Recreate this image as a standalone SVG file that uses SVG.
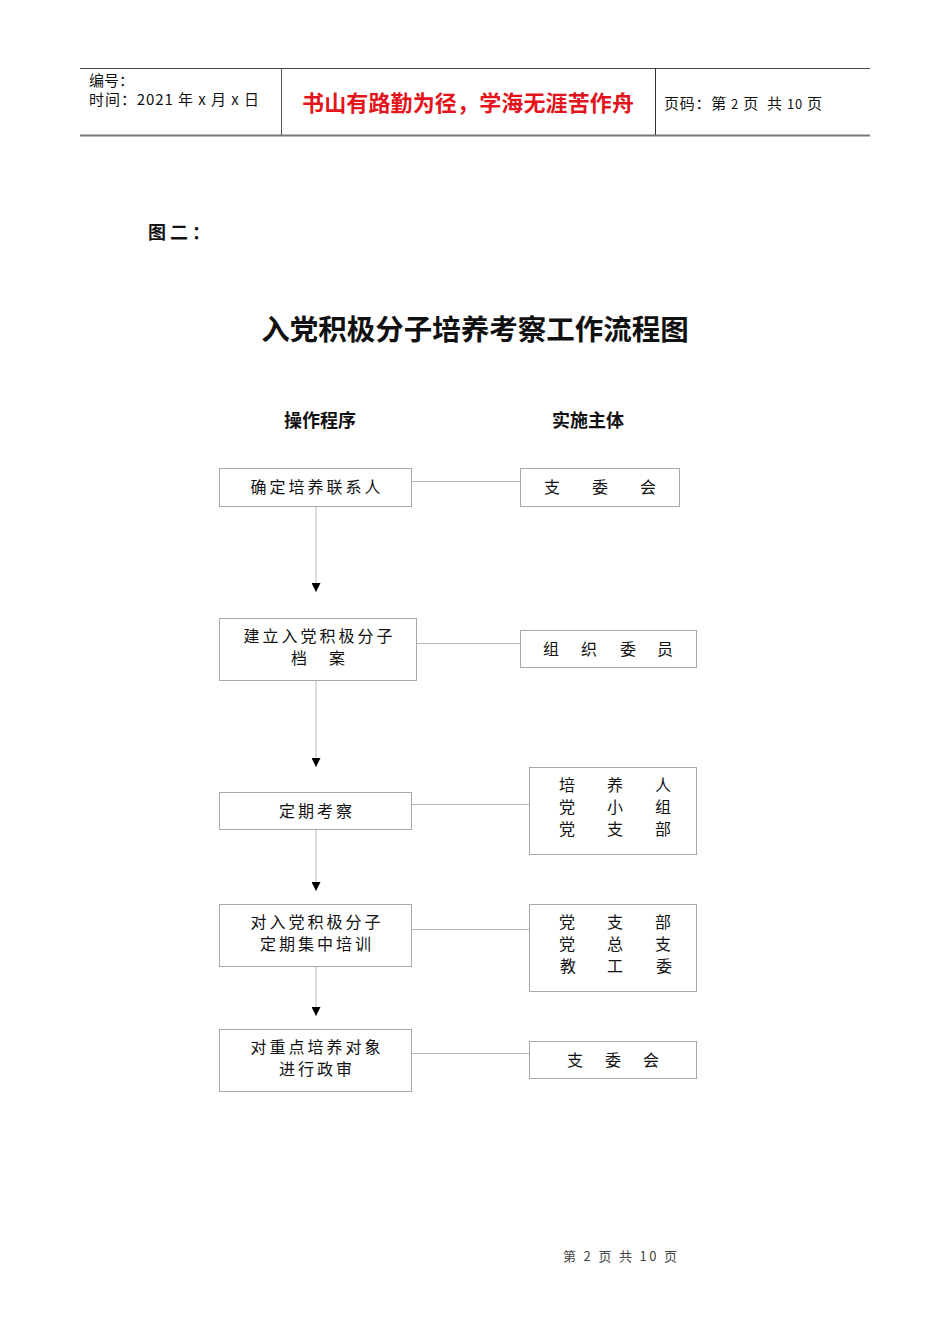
<svg xmlns="http://www.w3.org/2000/svg" width="950" height="1344" viewBox="0 0 950 1344">
<style>
  .cjk { font-family: "Noto Sans CJK SC", "Liberation Sans", sans-serif; }
  .box { fill: #fff; stroke: #a8a8a8; stroke-width: 1; }
  .lbl { font-family: "Noto Sans CJK SC", "Liberation Sans", sans-serif; font-size: 16px; fill: #111; text-anchor: middle; dominant-baseline: central; }
  .sp { letter-spacing: 3px; }
  .conn { stroke: #b8b8b8; stroke-width: 1; fill: none; }
</style>
<defs>
  <marker id="arr" viewBox="0 0 10 10" refX="10" refY="5" markerWidth="9" markerHeight="9" markerUnits="userSpaceOnUse" orient="auto">
    <path d="M0,0 L10,5 L0,10 Z" fill="#000"/>
  </marker>
</defs>
<rect width="950" height="1344" fill="#fff"/>

<!-- header -->
<g id="header">
  <line x1="80" y1="68.5" x2="870" y2="68.5" stroke="#444" stroke-width="1"/>
  <line x1="80" y1="135.5" x2="870" y2="135.5" stroke="#777" stroke-width="2"/>
  <line x1="281.5" y1="68" x2="281.5" y2="135" stroke="#555" stroke-width="1"/>
  <line x1="655.5" y1="68" x2="655.5" y2="135" stroke="#333" stroke-width="1"/>
  <text x="89" y="86" class="cjk" font-size="15" fill="#111">编号：</text>
  <text x="89" y="105" class="cjk" font-size="15" fill="#111" textLength="170" lengthAdjust="spacing" xml:space="preserve">时间：2021 年 x 月 x 日</text>
  <text x="468" y="111" class="cjk" font-size="22" font-weight="bold" fill="#e3141b" text-anchor="middle" textLength="332" lengthAdjust="spacing">书山有路勤为径，学海无涯苦作舟</text>
  <text x="664" y="109" class="cjk" font-size="15" fill="#111" textLength="158" lengthAdjust="spacing" xml:space="preserve">页码：第 <tspan font-size="13">2</tspan> 页  共 <tspan font-size="13">10</tspan> 页</text>
</g>

<text x="148" y="239" class="cjk" font-size="18" font-weight="bold" fill="#111" letter-spacing="4">图二：</text>
<text x="475" y="340" class="cjk" font-size="28.5" font-weight="bold" fill="#111" text-anchor="middle">入党积极分子培养考察工作流程图</text>
<text x="320" y="427" class="cjk" font-size="18" font-weight="bold" fill="#111" text-anchor="middle">操作程序</text>
<text x="588" y="427" class="cjk" font-size="18" font-weight="bold" fill="#111" text-anchor="middle">实施主体</text>

<!-- connectors -->
<g id="connectors">
  <line class="conn" x1="316" y1="507" x2="316" y2="592" marker-end="url(#arr)"/>
  <line class="conn" x1="316" y1="681" x2="316" y2="767" marker-end="url(#arr)"/>
  <line class="conn" x1="316" y1="830" x2="316" y2="891" marker-end="url(#arr)"/>
  <line class="conn" x1="316" y1="967" x2="316" y2="1016" marker-end="url(#arr)"/>
  <line class="conn" x1="412" y1="481.5" x2="520" y2="481.5"/>
  <line class="conn" x1="417" y1="643.5" x2="520" y2="643.5"/>
  <line class="conn" x1="412" y1="804.5" x2="529" y2="804.5"/>
  <line class="conn" x1="412" y1="929.5" x2="529" y2="929.5"/>
  <line class="conn" x1="412" y1="1053.5" x2="529" y2="1053.5"/>
</g>

<!-- left nodes -->
<g id="n1">
  <rect class="box" x="219.5" y="468.5" width="192" height="38"/>
  <text class="lbl sp" x="317" y="486">确定培养联系人</text>
</g>
<g id="n2">
  <rect class="box" x="219.5" y="618.5" width="197" height="62"/>
  <text class="lbl sp" x="319.5" y="635">建立入党积极分子</text>
  <text class="lbl" x="299" y="657">档</text>
  <text class="lbl" x="337" y="657">案</text>
</g>
<g id="n3">
  <rect class="box" x="219.5" y="792.5" width="192" height="37"/>
  <text class="lbl sp" x="317" y="810">定期考察</text>
</g>
<g id="n4">
  <rect class="box" x="219.5" y="904.5" width="192" height="62"/>
  <text class="lbl sp" x="317" y="921">对入党积极分子</text>
  <text class="lbl sp" x="317" y="943">定期集中培训</text>
</g>
<g id="n5">
  <rect class="box" x="219.5" y="1029.5" width="192" height="62"/>
  <text class="lbl sp" x="317" y="1046">对重点培养对象</text>
  <text class="lbl sp" x="317" y="1068">进行政审</text>
</g>

<!-- right nodes -->
<g id="r1">
  <rect class="box" x="520.5" y="468.5" width="159" height="38"/>
  <text class="lbl" x="552" y="486">支</text>
  <text class="lbl" x="600" y="486">委</text>
  <text class="lbl" x="648" y="486">会</text>
</g>
<g id="r2">
  <rect class="box" x="520.5" y="630.5" width="176" height="37"/>
  <text class="lbl" x="551" y="648">组</text>
  <text class="lbl" x="589" y="648">织</text>
  <text class="lbl" x="628" y="648">委</text>
  <text class="lbl" x="665" y="648">员</text>
</g>
<g id="r3">
  <rect class="box" x="529.5" y="767.5" width="167" height="87"/>
  <text class="lbl" x="567" y="784">培</text>
  <text class="lbl" x="615" y="784">养</text>
  <text class="lbl" x="663" y="784">人</text>
  <text class="lbl" x="567" y="806">党</text>
  <text class="lbl" x="615" y="806">小</text>
  <text class="lbl" x="663" y="806">组</text>
  <text class="lbl" x="567" y="828">党</text>
  <text class="lbl" x="615" y="828">支</text>
  <text class="lbl" x="663" y="828">部</text>
</g>
<g id="r4">
  <rect class="box" x="529.5" y="904.5" width="167" height="87"/>
  <text class="lbl" x="567" y="921">党</text>
  <text class="lbl" x="615" y="921">支</text>
  <text class="lbl" x="663" y="921">部</text>
  <text class="lbl" x="567" y="943">党</text>
  <text class="lbl" x="615" y="943">总</text>
  <text class="lbl" x="663" y="943">支</text>
  <text class="lbl" x="568" y="965">教</text>
  <text class="lbl" x="615" y="965">工</text>
  <text class="lbl" x="664" y="965">委</text>
</g>
<g id="r5">
  <rect class="box" x="529.5" y="1041.5" width="167" height="37"/>
  <text class="lbl" x="575" y="1059">支</text>
  <text class="lbl" x="613" y="1059">委</text>
  <text class="lbl" x="651" y="1059">会</text>
</g>

<text x="563" y="1261" class="cjk" font-size="13" fill="#444" textLength="114" lengthAdjust="spacing" xml:space="preserve">第 2 页 共 10 页</text>
</svg>
